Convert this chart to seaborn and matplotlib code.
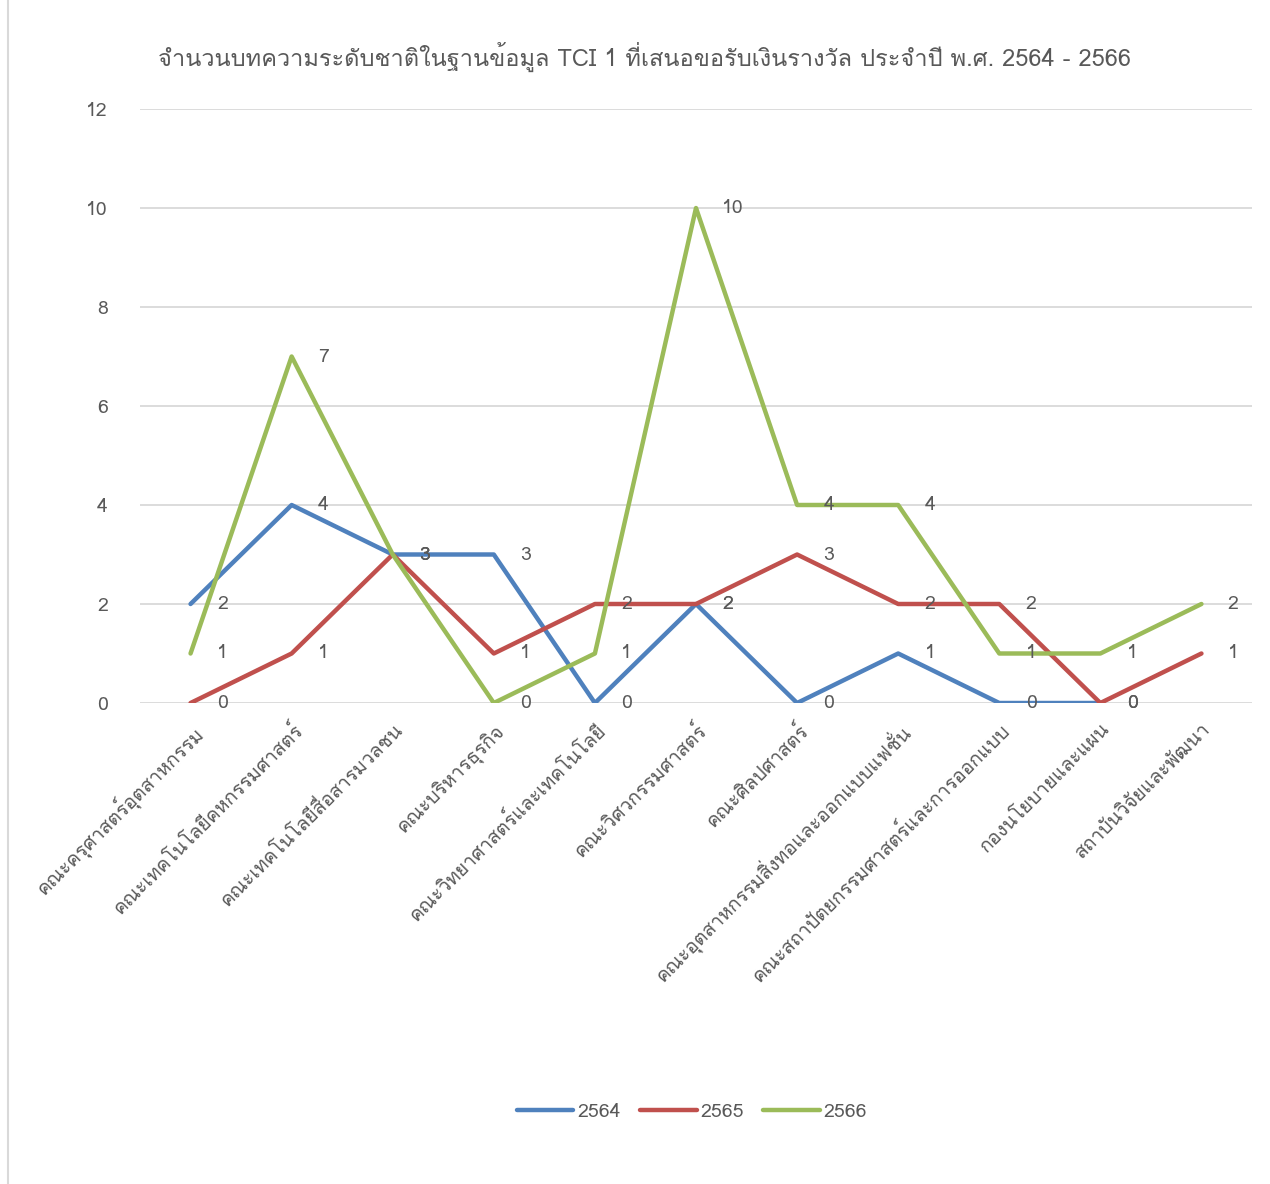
import numpy as np
import pandas as pd
import matplotlib
matplotlib.use("Agg")
import matplotlib.pyplot as plt
from matplotlib import font_manager
from matplotlib.lines import Line2D
import seaborn as sns

categories = [
    "คณะครุศาสตร์อุตสาหกรรม",
    "คณะเทคโนโลยีคหกรรมศาสตร์",
    "คณะเทคโนโลยีสื่อสารมวลชน",
    "คณะบริหารธุรกิจ",
    "คณะวิทยาศาสตร์และเทคโนโลยี",
    "คณะวิศวกรรมศาสตร์",
    "คณะศิลปศาสตร์",
    "คณะอุตสาหกรรมสิ่งทอและออกแบบแฟชั่น",
    "คณะสถาปัตยกรรมศาสตร์และการออกแบบ",
    "กองนโยบายและแผน",
    "สถาบันวิจัยและพัฒนา",
]
years = ["2564", "2565", "2566"]
v2564 = [2, 4, 3, 3, 0, 2, 0, 1, 0, 0, np.nan]
v2565 = [0, 1, 3, 1, 2, 2, 3, 2, 2, 0, 1]
v2566 = [1, 7, 3, 0, 1, 10, 4, 4, 1, 1, 2]
yticks = [0, 2, 4, 6, 8, 10, 12]
title = "จำนวนบทความระดับชาติในฐานข้อมูล TCI 1 ที่เสนอขอรับเงินรางวัล ประจำปี พ.ศ. 2564 - 2566"

colors = {"2564": "#4f81bd", "2565": "#c0504d", "2566": "#9bbb59"}
text_color = "#595959"
grid_color = "#d9d9d9"

# find a font with Thai glyphs
thai_family = None
try:
    from fontTools.ttLib import TTFont
    for fe in font_manager.fontManager.ttflist:
        try:
            f = TTFont(fe.fname, fontNumber=0, lazy=True)
            cmap = f.getBestCmap()
            if cmap and 0x0E08 in cmap and 0x0E33 in cmap:
                thai_family = fe.name
                break
        except Exception:
            continue
except Exception:
    pass

sns.set_theme(style="white")
fams = ([thai_family] if thai_family else []) + ["DejaVu Sans"]
plt.rcParams["font.family"] = fams

series = {"2564": v2564, "2565": v2565, "2566": v2566}
rows = []
for y in years:
    for i, v in enumerate(series[y]):
        rows.append({"pos": i, "value": v, "year": y})
df = pd.DataFrame(rows)

fig = plt.figure(figsize=(12.7, 11.84), dpi=100)
ax = fig.add_axes([140 / 1270, 1 - 703 / 1184, (1252 - 140) / 1270, (703 - 109) / 1184])

sns.lineplot(data=df.dropna(), x="pos", y="value", hue="year", palette=colors,
             linewidth=3.2, sort=False, legend=False, ax=ax, zorder=3)

for y in years:
    for i, v in enumerate(series[y]):
        if np.isnan(v):
            continue
        ax.annotate(f"{int(v)}", (i, v), xytext=(19, 0), textcoords="offset points",
                    ha="left", va="center", fontsize=14, color=text_color, zorder=5)

ax.set_xlim(-0.5, len(categories) - 0.5)
ax.set_ylim(0, 12)
ax.set_yticks(yticks)
ax.set_yticklabels([str(t) for t in yticks])
ax.set_xticks(range(len(categories)))
ax.set_xticklabels(categories, rotation=45, ha="right", rotation_mode="anchor")
ax.tick_params(axis="both", length=0, labelsize=14, colors=text_color)
ax.tick_params(axis="y", pad=23)
ax.tick_params(axis="x", pad=12)
ax.grid(axis="y", color=grid_color, linewidth=1.3, zorder=0)
ax.set_axisbelow(True)
for s in ax.spines.values():
    s.set_visible(False)
ax.set_xlabel("")
ax.set_ylabel("")

fig.text(645 / 1270, 1 - 57 / 1184, title, ha="center", va="center",
         fontsize=17, color=text_color)

handles = [Line2D([0], [0], color=colors[y], linewidth=3.2) for y in years]
fig.legend(handles, years, loc="center", bbox_to_anchor=(0.545, 1 - 1112 / 1184),
           ncol=3, frameon=False, fontsize=14, handlelength=2.9, columnspacing=1.0,
           handletextpad=0.2, labelcolor=text_color)

fig.add_artist(Line2D([8 / 1270, 8 / 1270], [0, 1], transform=fig.transFigure,
                      color=grid_color, linewidth=1.5))

fig.savefig("out.png", dpi=100)
